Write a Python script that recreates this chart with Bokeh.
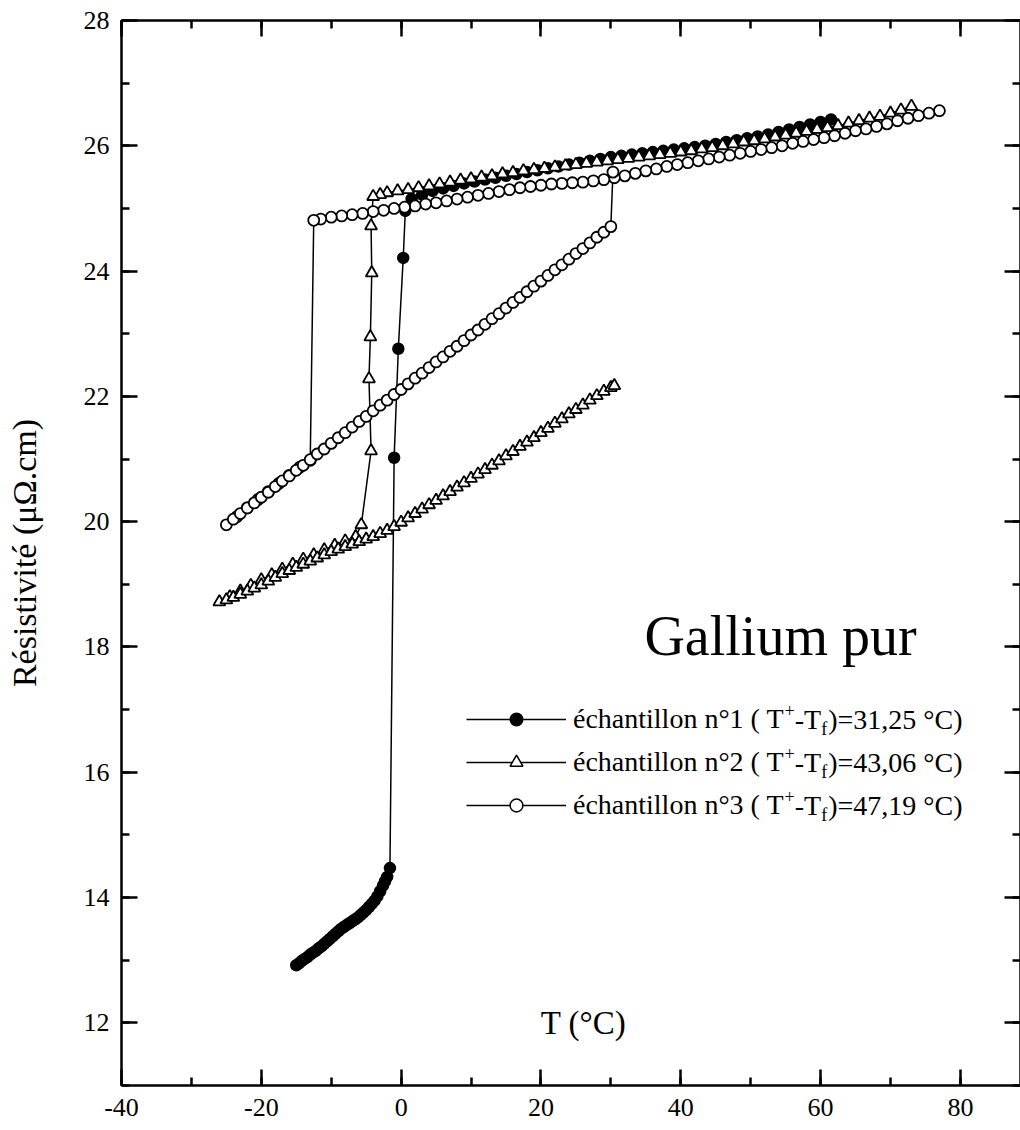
from bokeh.plotting import figure
from bokeh.models import (Range1d, LinearAxis, SingleIntervalTicker, Legend,
                          LegendItem, Label, ColumnDataSource, PrintfTickFormatter)
from bokeh.embed import file_html
from bokeh.resources import INLINE

# ---------------- data ----------------
# échantillon n°1 (filled circles): liquid branch cooling, jump, solid branch
s1_T = [61.5, 60.0, 58.5, 57.0, 55.5, 54.0, 52.5, 51.0, 49.5, 48.0, 46.5, 45.0,
        43.5, 42.0, 40.5, 39.0, 37.5, 36.0, 34.5, 33.0, 31.5, 30.0, 28.5, 27.0,
        25.5, 24.0, 22.5, 21.0, 19.5, 18.0, 16.5, 15.0, 13.5, 12.0, 10.5, 9.0,
        7.5, 6.0, 4.5, 3.0, 1.5, 0.6,
        0.3, -0.4, -1.0, -1.6,
        -2.0, -2.3, -2.6, -3.0, -3.4, -3.8, -4.2, -4.6, -5.0, -5.4, -5.8, -6.2,
        -6.6, -7.0, -7.4, -7.8, -8.2, -8.6, -9.0, -9.4, -9.8, -10.2, -10.6,
        -11.0, -11.4, -11.8, -12.2, -12.6, -13.0, -13.4, -13.8, -14.2, -14.6, -15.0]
s1_R = [26.42, 26.38, 26.34, 26.30, 26.26, 26.22, 26.18, 26.15, 26.12, 26.09, 26.06, 26.03,
        26.00, 25.98, 25.96, 25.94, 25.92, 25.90, 25.88, 25.86, 25.84, 25.82, 25.79, 25.76,
        25.73, 25.70, 25.67, 25.64, 25.61, 25.58, 25.55, 25.52, 25.49, 25.46, 25.43, 25.40,
        25.36, 25.32, 25.28, 25.22, 25.15, 24.96,
        24.21, 22.76, 21.02, 14.47,
        14.33, 14.26, 14.19, 14.10, 14.02, 13.95, 13.90, 13.85, 13.80, 13.76, 13.72, 13.68,
        13.65, 13.62, 13.59, 13.56, 13.53, 13.50, 13.46, 13.42, 13.38, 13.34, 13.30,
        13.26, 13.22, 13.19, 13.15, 13.12, 13.09, 13.05, 13.02, 12.99, 12.95, 12.92]

# échantillon n°2 (open triangles)
s2_T = [73.0, 71.5, 70.0, 68.5, 67.0, 65.5, 64.0, 62.5, 61.0, 59.5, 58.0, 56.5,
        55.0, 53.5, 52.0, 50.5, 49.0, 47.5, 46.0, 44.5, 43.0, 41.5, 40.0, 38.5,
        37.0, 35.5, 34.0, 32.5, 31.0, 29.5, 28.0, 26.5, 25.0, 23.5, 22.0, 20.5,
        19.0, 17.5, 16.0, 14.5, 13.0, 11.5, 10.0, 8.5, 7.0, 5.5, 4.0, 2.5, 1.0,
        -0.5, -2.0, -3.0, -4.0,
        -4.3, -4.2, -4.4, -4.6, -4.3, -5.7,
        -6.5, -8.0, -9.5, -11.0, -12.5, -14.0, -15.5, -17.0, -18.5, -20.0, -21.5,
        -23.0, -24.5, -26.0,
        -25.0, -24.0, -23.0, -22.0, -21.0, -20.0, -19.0, -18.0, -17.0, -16.0, -15.0,
        -14.0, -13.0, -12.0, -11.0, -10.0, -9.0, -8.0, -7.0, -6.0, -5.0, -4.0, -3.0,
        -2.0, -1.0, 0.0, 1.0, 2.0, 3.0, 4.0, 5.0, 6.0, 7.0, 8.0, 9.0, 10.0, 11.0,
        12.0, 13.0, 14.0, 15.0, 16.0, 17.0, 18.0, 19.0, 20.0, 21.0, 22.0, 23.0,
        24.0, 25.0, 26.0, 27.0, 28.0, 29.0, 30.0, 30.5]
s2_R = [26.63, 26.57, 26.52, 26.47, 26.44, 26.40, 26.36, 26.32, 26.29, 26.26, 26.23, 26.20,
        26.17, 26.14, 26.11, 26.08, 26.06, 26.03, 26.00, 25.97, 25.95, 25.92, 25.90, 25.88,
        25.86, 25.84, 25.82, 25.80, 25.78, 25.76, 25.74, 25.72, 25.70, 25.68, 25.66, 25.64,
        25.62, 25.60, 25.57, 25.55, 25.52, 25.50, 25.47, 25.45, 25.42, 25.39, 25.36, 25.33, 25.30,
        25.28, 25.25, 25.22, 25.19,
        24.72, 23.97, 22.95, 22.28, 21.13, 19.95,
        19.76, 19.69, 19.62, 19.55, 19.47, 19.40, 19.32, 19.24, 19.15, 19.07, 18.98,
        18.89, 18.80, 18.72,
        18.75, 18.79, 18.84, 18.89, 18.94, 18.99, 19.05, 19.11, 19.17, 19.22, 19.27,
        19.32, 19.37, 19.42, 19.47, 19.52, 19.56, 19.60, 19.64, 19.68, 19.72, 19.76, 19.81,
        19.86, 19.92, 19.99, 20.06, 20.13, 20.20, 20.27, 20.34, 20.41, 20.48, 20.55, 20.62, 20.69, 20.76,
        20.83, 20.90, 20.97, 21.05, 21.12, 21.20, 21.27, 21.34, 21.42, 21.49, 21.57, 21.64,
        21.72, 21.79, 21.86, 21.94, 22.01, 22.08, 22.14, 22.17]

# échantillon n°3 (open circles)
s3_T = [77.0, 75.5, 74.0, 72.5, 71.0, 69.5, 68.0, 66.5, 65.0, 63.5, 62.0, 60.5,
        59.0, 57.5, 56.0, 54.5, 53.0, 51.5, 50.0, 48.5, 47.0, 45.5, 44.0, 42.5,
        41.0, 39.5, 38.0, 36.5, 35.0, 33.5, 32.0, 30.5, 29.0, 27.5, 26.0, 24.5,
        23.0, 21.5, 20.0, 18.5, 17.0, 15.5, 14.0, 12.5, 11.0, 9.5, 8.0, 6.5, 5.0,
        3.5, 2.0, 0.5, -1.0, -2.5, -4.0, -5.5, -7.0, -8.5, -10.0, -11.5, -12.5,
        -13.0,
        -14.5, -16.0, -17.5, -19.0, -20.5, -22.0, -23.5, -25.0,
        -24.0, -23.0, -22.0, -21.0, -20.0, -19.0, -18.0, -17.0, -16.0, -15.0, -14.0,
        -13.0, -12.0, -11.0, -10.0, -9.0, -8.0, -7.0, -6.0, -5.0, -4.0, -3.0, -2.0,
        -1.0, 0.0, 1.0, 2.0, 3.0, 4.0, 5.0, 6.0, 7.0, 8.0, 9.0, 10.0, 11.0, 12.0,
        13.0, 14.0, 15.0, 16.0, 17.0, 18.0, 19.0, 20.0, 21.0, 22.0, 23.0, 24.0,
        25.0, 26.0, 27.0, 28.0, 29.0, 30.0,
        30.3]
s3_R = [26.56, 26.52, 26.48, 26.44, 26.40, 26.35, 26.31, 26.27, 26.24, 26.20, 26.16, 26.13,
        26.10, 26.07, 26.04, 26.00, 25.97, 25.94, 25.91, 25.88, 25.85, 25.82, 25.79, 25.76,
        25.73, 25.70, 25.67, 25.63, 25.60, 25.56, 25.52, 25.49, 25.46, 25.44, 25.42, 25.41,
        25.40, 25.39, 25.37, 25.35, 25.33, 25.30, 25.27, 25.24, 25.21, 25.18, 25.15, 25.12, 25.09,
        25.07, 25.04, 25.02, 25.00, 24.97, 24.95, 24.92, 24.90, 24.88, 24.86, 24.83, 24.81,
        20.98,
        20.87, 20.74, 20.61, 20.48, 20.35, 20.22, 20.08, 19.95,
        20.04, 20.13, 20.22, 20.30, 20.39, 20.47, 20.56, 20.65, 20.73, 20.82, 20.90,
        20.99, 21.08, 21.16, 21.25, 21.34, 21.42, 21.51, 21.60, 21.68, 21.77, 21.86, 21.94,
        22.03, 22.11, 22.20, 22.29, 22.37, 22.46, 22.55, 22.63, 22.72, 22.80, 22.89, 22.98, 23.06,
        23.15, 23.24, 23.32, 23.41, 23.50, 23.58, 23.67, 23.76, 23.84, 23.93, 24.02, 24.10,
        24.19, 24.28, 24.36, 24.45, 24.54, 24.62, 24.71,
        25.58]

labels = ["échantillon n°1 ( T", "échantillon n°2 ( T", "échantillon n°3 ( T"]
label_tail = [")=31,25 °C)", ")=43,06 °C)", ")=47,19 °C)"]
title_text = "Gallium pur"
x_title = "T (°C)"
y_title = "Résistivité (μΩ.cm)"

FONT = "Liberation Serif"

# ---------------- figure ----------------
p = figure(width=1020, height=1130, output_backend="svg", toolbar_location=None,
           x_range=Range1d(-40, 88.6), y_range=Range1d(11, 28),
           min_border_left=121, min_border_right=0, min_border_top=20,
           min_border_bottom=45)
p.grid.visible = False
p.outline_line_color = None
p.background_fill_color = "white"
p.border_fill_color = "white"

xt = SingleIntervalTicker(interval=20, num_minor_ticks=2)
yt = SingleIntervalTicker(interval=2, num_minor_ticks=2)


def style_axis(ax, show_labels):
    ax.axis_line_width = 2.5
    ax.axis_line_color = "black"
    ax.major_tick_line_width = 2.5
    ax.minor_tick_line_width = 2.5
    ax.major_tick_in = 16
    ax.major_tick_out = 0
    ax.minor_tick_in = 8
    ax.minor_tick_out = 0
    ax.major_label_text_font = FONT
    ax.major_label_text_color = "black"
    ax.major_label_text_font_style = "normal"
    if show_labels:
        ax.formatter = PrintfTickFormatter(format="%d")
        ax.major_label_text_font_size = "26px"
    else:
        # mirror axes (top / right) carry ticks only, no labels
        ax.formatter = PrintfTickFormatter(format="")
        ax.major_label_text_font_size = "1px"
        ax.major_label_text_alpha = 0
        ax.major_label_standoff = 0


xa = p.xaxis[0]
xa.ticker = xt
style_axis(xa, True)
xa.major_label_standoff = 13

ya = p.yaxis[0]
ya.ticker = yt
style_axis(ya, True)
ya.major_label_standoff = 12
ya.axis_label = y_title
ya.axis_label_text_font = FONT
ya.axis_label_text_font_style = "normal"
ya.axis_label_text_font_size = "34px"
ya.axis_label_text_color = "black"
ya.axis_label_standoff = 38

top = LinearAxis(ticker=SingleIntervalTicker(interval=20, num_minor_ticks=2))
style_axis(top, False)
p.add_layout(top, "above")
right = LinearAxis(ticker=SingleIntervalTicker(interval=2, num_minor_ticks=2))
style_axis(right, False)
p.add_layout(right, "right")

# ---------------- series ----------------
src1 = ColumnDataSource(dict(T=s1_T, R=s1_R))
src2 = ColumnDataSource(dict(T=s2_T, R=s2_R))
src3 = ColumnDataSource(dict(T=s3_T, R=s3_R))

l1 = p.line("T", "R", source=src1, line_color="black", line_width=1.5)
l2 = p.line("T", "R", source=src2, line_color="black", line_width=1.5)
l3 = p.line("T", "R", source=src3, line_color="black", line_width=1.5)

# smaller copies of the markers, drawn underneath the real ones (fully hidden),
# whose styling gives the smaller legend samples of the reference
k1 = p.scatter("T", "R", source=src1, marker="circle", size=9,
               fill_color="black", line_color="black", line_width=1.2)
k2 = p.scatter("T", "R", source=src2, marker="triangle", size=10,
               fill_color="white", line_color="black", line_width=1.5)
k3 = p.scatter("T", "R", source=src3, marker="circle", size=9,
               fill_color="white", line_color="black", line_width=1.5)

m1 = p.scatter("T", "R", source=src1, marker="circle", size=11,
               fill_color="black", line_color="black", line_width=1.5)
m2 = p.scatter("T", "R", source=src2, marker="triangle", size=12,
               fill_color="white", line_color="black", line_width=1.8)
m3 = p.scatter("T", "R", source=src3, marker="circle", size=11,
               fill_color="white", line_color="black", line_width=1.8)

# ---------------- legend ----------------
items = [LegendItem(label=labels[0], renderers=[l1, k1]),
         LegendItem(label=labels[1], renderers=[l2, k2]),
         LegendItem(label=labels[2], renderers=[l3, k3])]
LEG_X, LEG_Y = 345, 264
GW, GH, SP, STAND = 100, 32, 11, 7
leg = Legend(items=items, location=(LEG_X, LEG_Y), glyph_width=GW, glyph_height=GH,
             label_height=GH, spacing=SP, padding=0, margin=0, label_standoff=STAND,
             border_line_color=None, background_fill_alpha=0,
             label_text_font=FONT, label_text_font_size="28px",
             label_text_color="black")
p.add_layout(leg)

# pieces of the legend text with super/subscripts
em = 28.0
w_head = 7.538 * em
x0 = LEG_X + GW + STAND + w_head
for i in range(3):
    yc = LEG_Y + 3 * GH + 2 * SP - GH / 2 - i * (GH + SP)
    p.add_layout(Label(x=x0, y=yc + 9, x_units="screen", y_units="screen", text="+",
                       text_font=FONT, text_font_size="18px", text_baseline="middle",
                       text_color="black"))
    xm = x0 + 10.2
    p.add_layout(Label(x=xm, y=yc, x_units="screen", y_units="screen", text="-T",
                       text_font=FONT, text_font_size="28px", text_baseline="middle",
                       text_color="black"))
    xf = xm + 0.944 * em
    p.add_layout(Label(x=xf, y=yc - 9, x_units="screen", y_units="screen", text="f",
                       text_font=FONT, text_font_size="18px", text_baseline="middle",
                       text_color="black"))
    xr = xf + 7
    p.add_layout(Label(x=xr, y=yc, x_units="screen", y_units="screen", text=label_tail[i],
                       text_font=FONT, text_font_size="28px", text_baseline="middle",
                       text_color="black"))

p.add_layout(Label(x=659, y=450, x_units="screen", y_units="screen", text=title_text,
                   text_font=FONT, text_font_size="56px", text_align="center",
                   text_baseline="middle", text_color="black"))
p.add_layout(Label(x=462, y=63, x_units="screen", y_units="screen", text=x_title,
                   text_font=FONT, text_font_size="33px", text_align="center",
                   text_baseline="middle", text_color="black"))

open("out.html", "w").write(file_html(p, INLINE))
